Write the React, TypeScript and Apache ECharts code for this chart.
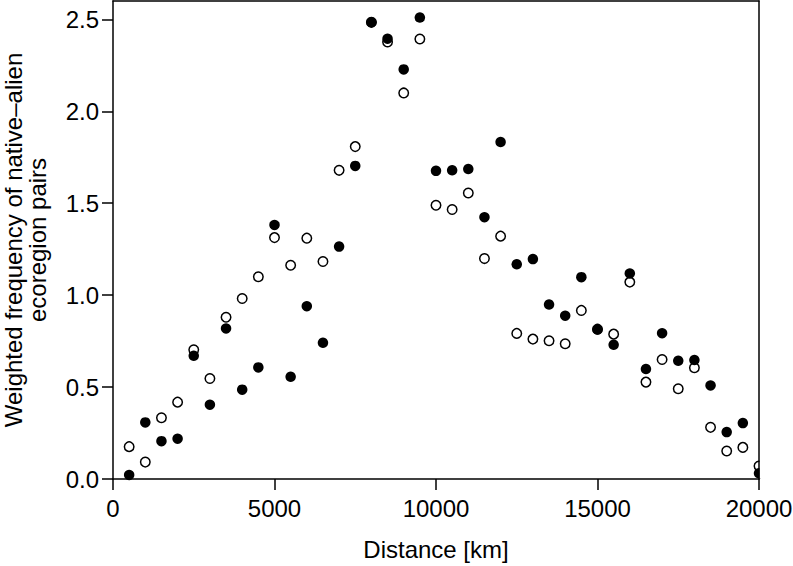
import React, { useEffect, useRef } from "react";
import * as echarts from "echarts";

const distanceKm = [
  500, 1000, 1500, 2000, 2500, 3000, 3500, 4000, 4500, 5000,
  5500, 6000, 6500, 7000, 7500, 8000, 8500, 9000, 9500, 10000,
  10500, 11000, 11500, 12000, 12500, 13000, 13500, 14000, 14500, 15000,
  15500, 16000, 16500, 17000, 17500, 18000, 18500, 19000, 19500, 20000,
];

const filledValues = [
  0.022, 0.308, 0.206, 0.219, 0.670, 0.404, 0.819, 0.486, 0.607, 1.382,
  0.556, 0.940, 0.741, 1.264, 1.703, 2.484, 2.395, 2.228, 2.510, 1.676,
  1.679, 1.686, 1.424, 1.833, 1.168, 1.196, 0.949, 0.888, 1.098, 0.813,
  0.730, 1.118, 0.598, 0.793, 0.643, 0.647, 0.509, 0.255, 0.304, 0.031,
];

const openValues = [
  0.176, 0.092, 0.333, 0.418, 0.703, 0.547, 0.880, 0.982, 1.100, 1.313,
  1.163, 1.310, 1.183, 1.679, 1.808, 2.484, 2.377, 2.100, 2.393, 1.489,
  1.466, 1.556, 1.199, 1.321, 0.792, 0.761, 0.752, 0.736, 0.917, 0.815,
  0.788, 1.071, 0.527, 0.650, 0.491, 0.605, 0.281, 0.152, 0.172, 0.071,
];

const yTicks = [0, 0.5, 1.0, 1.5, 2.0, 2.5];
const xTicks = [0, 5000, 10000, 15000, 20000];

const FONT = '"Liberation Sans", Arial, Helvetica, sans-serif';

export default function App() {
  const ref = useRef<HTMLDivElement>(null);

  useEffect(() => {
    if (!ref.current) return;
    const chart = echarts.init(ref.current, null, { renderer: "svg" });
    const openData = distanceKm.map((d, i) => [d, openValues[i]]);
    const filledData = distanceKm.map((d, i) => [d, filledValues[i]]);
    const lineStyle = { color: "#000", width: 1.5 };
    chart.setOption({
      animation: false,
      backgroundColor: "#fff",
      textStyle: { fontFamily: FONT },
      grid: {
        left: 113,
        right: 34,
        top: 1,
        bottom: 87,
        containLabel: false,
        outerBoundsMode: "none",
      },
      xAxis: [
        {
          type: "value",
          position: "bottom",
          min: 0,
          max: 20000,
          interval: 5000,
          z: 10,
          axisLine: { show: true, onZero: false, lineStyle },
          axisTick: { show: true, length: 11, inside: false, lineStyle, customValues: xTicks },
          axisLabel: {
            show: true,
            color: "#000",
            fontSize: 24,
            fontFamily: FONT,
            margin: 17,
            customValues: xTicks,
            formatter: (v: number) => String(v),
          },
          splitLine: { show: false },
          name: "Distance [km]",
          nameLocation: "middle",
          nameGap: 58,
          nameTextStyle: { color: "#000", fontSize: 24, fontFamily: FONT },
        },
        {
          type: "value",
          position: "top",
          min: 0,
          max: 20000,
          z: 10,
          axisLine: { show: true, onZero: false, lineStyle },
          axisTick: { show: false },
          axisLabel: { show: false },
          splitLine: { show: false },
        },
      ],
      yAxis: [
        {
          type: "value",
          position: "left",
          min: 0,
          max: 2.6,
          z: 10,
          axisLine: { show: true, onZero: false, lineStyle },
          axisTick: { show: true, length: 11, inside: false, lineStyle, customValues: yTicks },
          axisLabel: {
            show: true,
            color: "#000",
            fontSize: 24,
            fontFamily: FONT,
            margin: 14,
            customValues: yTicks,
            formatter: (v: number) => v.toFixed(1),
          },
          splitLine: { show: false },
          name: "Weighted frequency of native\u2013alien\necoregion pairs",
          nameLocation: "middle",
          nameGap: 64,
          nameTextStyle: {
            color: "#000",
            fontSize: 24,
            fontFamily: FONT,
            lineHeight: 24,
            align: "center",
          },
        },
        {
          type: "value",
          position: "right",
          min: 0,
          max: 2.6,
          z: 10,
          axisLine: { show: true, onZero: false, lineStyle },
          axisTick: { show: false },
          axisLabel: { show: false },
          splitLine: { show: false },
        },
      ],
      graphic: [
        {
          type: "rect",
          x: 759.5,
          y: 0,
          shape: { x: 0, y: 0, width: 40, height: 478 },
          style: { fill: "#fff" },
          z: 5,
          silent: true,
        },
      ],
      series: [
        {
          name: "open",
          type: "scatter",
          xAxisIndex: 0,
          yAxisIndex: 0,
          clip: false,
          data: openData,
          symbol: "circle",
          symbolSize: 9.5,
          itemStyle: { color: "#fff", borderColor: "#000", borderWidth: 1.5, opacity: 1 },
          z: 2,
        },
        {
          name: "filled",
          type: "scatter",
          xAxisIndex: 0,
          yAxisIndex: 0,
          clip: false,
          data: filledData,
          symbol: "circle",
          symbolSize: 10.5,
          itemStyle: { color: "#000", borderWidth: 0, opacity: 1 },
          z: 3,
        },
      ],
    });
    return () => chart.dispose();
  }, []);

  return (
    <div
      ref={ref}
      style={{ position: "fixed", left: 0, top: 0, width: 793, height: 566, background: "#fff" }}
    />
  );
}
